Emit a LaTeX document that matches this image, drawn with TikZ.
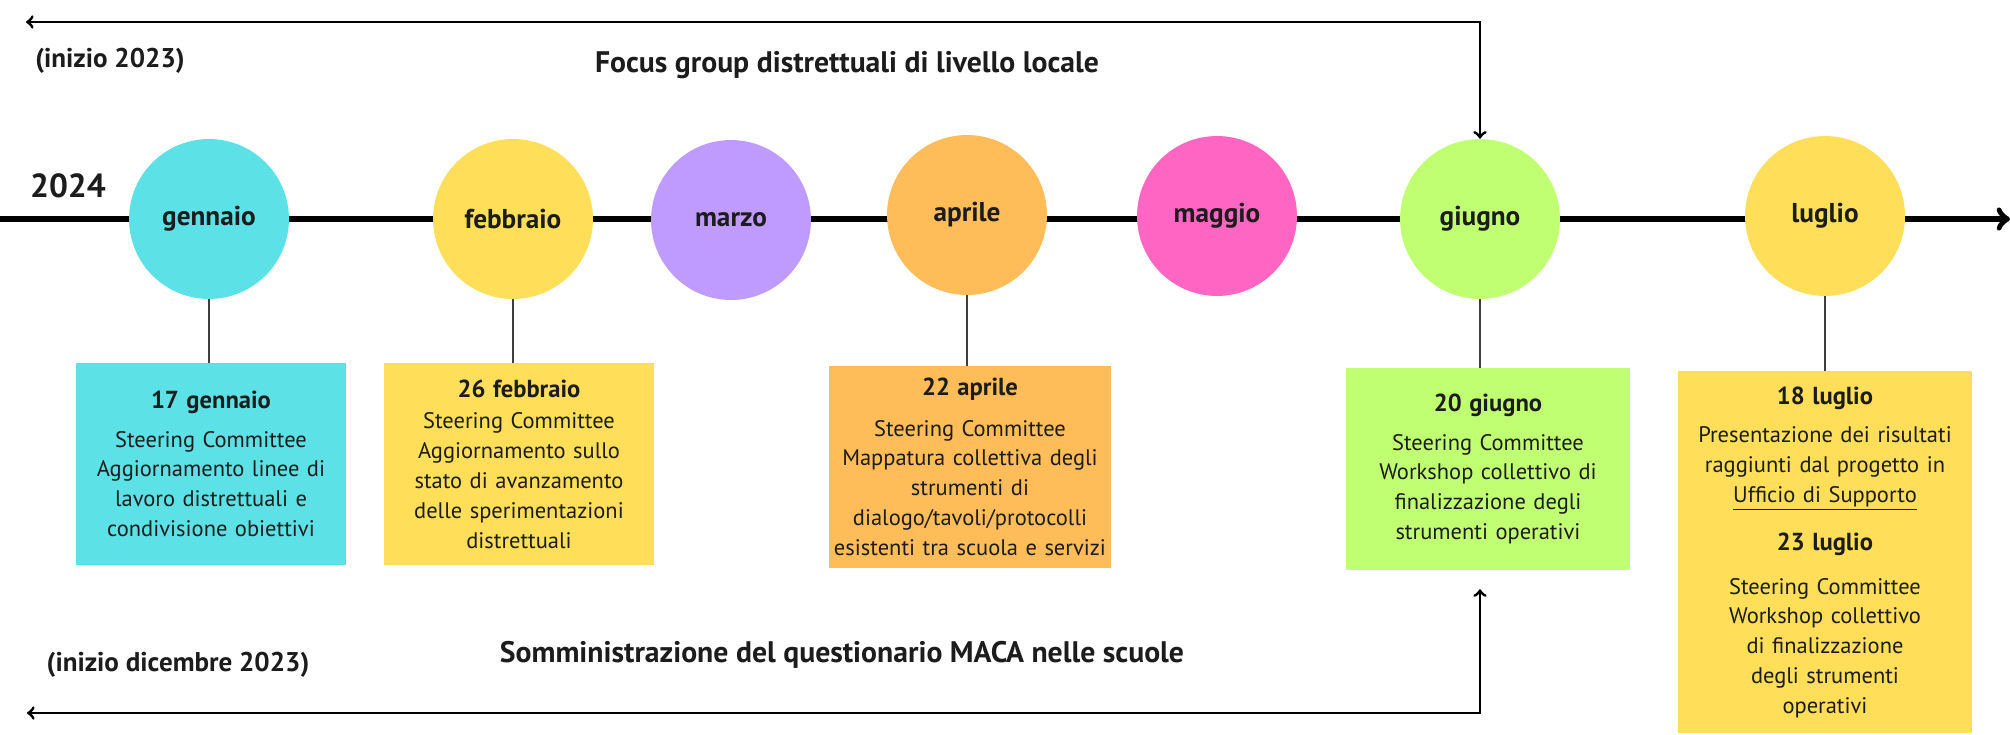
\documentclass[tikz,border=0pt]{standalone}
\usepackage{fontspec}
\setmainfont{PT Sans}
\definecolor{cyanm}{HTML}{5CE1E6}
\definecolor{yellowm}{HTML}{FFDE59}
\definecolor{lilacm}{HTML}{C09BFF}
\definecolor{orangem}{HTML}{FFBD59}
\definecolor{pinkm}{HTML}{FF66C4}
\definecolor{limem}{HTML}{C1FF72}
\definecolor{inkm}{HTML}{1C1C1C}
\newcommand{\evdate}[1]{{\bfseries\fontsize{14}{17}\selectfont #1}}

\begin{document}
\begin{tikzpicture}[scale=0.2]
            \tikzstyle{every node}+=[inner sep=0pt, text=inkm]
            \tikzstyle{month}=[circle, minimum size=91pt, font=\bfseries\fontsize{15.5}{17}\selectfont]
            \tikzstyle{event}=[anchor=north, align=center, minimum height=114.5pt, font=\fontsize{12.8}{17}\selectfont]
            \tikzstyle{tick}=[draw=inkm!85, line width=1pt]
            \tikzstyle{span}=[draw=black, line width=1.7pt, <->, >=to]
            \tikzstyle{caption}=[font=\bfseries\fontsize{15.4}{17}\selectfont]
            \tikzstyle{heading}=[font=\bfseries\fontsize{16.9}{18}\selectfont]
            \useasboundingbox (0,0) rectangle (201,-73.4);
            \fill [white] (0,0) rectangle (201,-73.4);
            % timeline
            \coordinate (lstart) at (0,-21.9);
            \coordinate (lend) at (201,-21.9);
            \draw [black, line width=3.4pt, ->, >=to] (lstart) -- (lend);
            \draw (6.8,-18.6) node [font=\bfseries\fontsize{19}{20}\selectfont] (y24) {2024};
            % months
            \draw (20.9,-21.9) node [month, fill=cyanm] (gen) {gennaio};
            \draw (51.3,-21.9) node [month, fill=yellowm] (feb) {febbraio};
            \draw (73.1,-22.0) node [month, fill=lilacm] (mar) {marzo};
            \draw (96.7,-21.5) node [month, fill=orangem] (apr) {aprile};
            \draw (121.7,-21.6) node [month, fill=pinkm] (mag) {maggio};
            \draw (148.0,-21.9) node [month, fill=limem] (giu) {giugno};
            \draw (182.5,-21.6) node [month, fill=yellowm] (lug) {luglio};
            % events
            \draw (21.1,-36.3) node [event, fill=cyanm, text width=154pt] (genbox)
              {\evdate{17 gennaio}\\[5pt] Steering Committee\\ Aggiornamento linee di\\ lavoro distrettuali e\\ condivisione obiettivi\\[-4pt]};
            \draw (51.9,-36.3) node [event, fill=yellowm, text width=154pt] (febbox)
              {\evdate{26 febbraio}\\[1pt] Steering Committee\\ Aggiornamento sullo\\ stato di avanzamento\\ delle sperimentazioni\\ distrettuali};
            \draw (97.0,-36.6) node [event, fill=orangem, text width=161pt] (aprbox)
              {\evdate{22 aprile}\\[6pt] Steering Committee\\ Mappatura collettiva degli\\ strumenti di\\ dialogo/tavoli/protocolli\\ esistenti tra scuola e servizi};
            \draw (148.8,-36.8) node [event, fill=limem, text width=161.5pt] (giubox)
              {\evdate{20 giugno}\\[5pt] Steering Committee\\ Workshop collettivo di\\ finalizzazione degli\\ strumenti operativi};
            \draw (182.5,-37.1) node [event, fill=yellowm, text width=167pt, minimum height=206pt] (lugbox)
              {\evdate{18 luglio}\\[5pt] Presentazione dei risultati\\ raggiunti dal progetto in\\ \underline{Ufficio di Supporto}\\[10pt]
               \evdate{23 luglio}\\[8pt] Steering Committee\\ Workshop collettivo\\ di finalizzazione\\ degli strumenti\\ operativi};
            \draw [tick] (gen.south) -- (gen.south |- genbox.north);
            \draw [tick] (feb.south) -- (feb.south |- febbox.north);
            \draw [tick] (apr.south) -- (apr.south |- aprbox.north);
            \draw [tick] (giu.south) -- (giu.south |- giubox.north);
            \draw [tick] (lug.south) -- (lug.south |- lugbox.north);
            % focus group
            \coordinate (fgl) at (2.6,-2.2);
            \draw [span] (fgl) -| (giu.north);
            \draw (11.0,-6.1) node [caption] (in23) {(inizio 2023)};
            \draw (84.7,-6.5) node [heading] (fg) {Focus group distrettuali di livello locale};
            % questionario
            \coordinate (sml) at (2.7,-71.3);
            \draw [span, shorten >=11pt] (sml) -| (giu |- giubox.south);
            \draw (17.8,-66.5) node [caption] (indic) {(inizio dicembre 2023)};
            \draw (84.2,-65.5) node [heading] (smq) {Somministrazione del questionario MACA nelle scuole};
        \end{tikzpicture}
\end{document}
